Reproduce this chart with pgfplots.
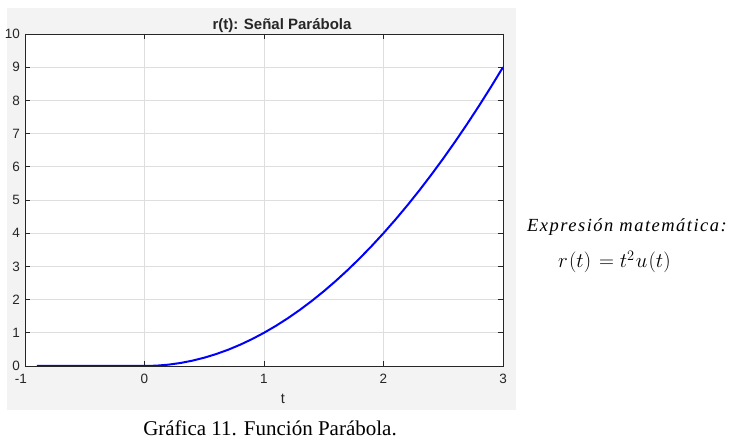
\documentclass[border=0pt]{standalone}
\usepackage{fontspec}
\setmainfont{Liberation Sans}
\newfontfamily\serif{Liberation Serif}
\newfontfamily\serifls[LetterSpace=8]{Liberation Serif}
\usepackage{pgfplots}
\pgfplotsset{compat=1.18}
\definecolor{figgray}{RGB}{243,243,243}
\definecolor{axgray}{RGB}{38,38,38}
\definecolor{gridgray}{RGB}{222,222,222}
\begin{document}
\begin{tikzpicture}[x=1pt,y=1pt]
\fill[white] (0,0) rectangle (733,441);
\fill[figgray] (7,31) rectangle (516,433);
\begin{axis}[at={(25pt,75pt)}, anchor=south west, scale only axis,
  width=478pt, height=332pt,
  xmin=-1, xmax=3, ymin=0, ymax=10,
  xtick={-1,0,1,2,3}, ytick={0,1,...,10},
  xticklabels={{\makebox[0pt][r]{-1\kern-2pt}},0,1,2,3},
  grid=major, major grid style={gridgray, line width=0.6pt},
  tick align=inside, major tick length=5pt,
  axis line style={axgray, line width=0.8pt},
  tick style={axgray, line width=0.8pt},
  axis background/.style={fill=white},
  ticklabel style={font=\fontsize{13.5}{14}\selectfont, text=axgray, inner sep=1pt},
  /pgf/number format/assume math mode=true,
  xticklabel style={yshift=-7pt},
  yticklabel style={xshift=-4pt},
]
\addplot[blue, line width=2pt] coordinates {
(-0.9,0) (0,0) (0.1,0.01) (0.2,0.04) (0.3,0.09) (0.4,0.16) (0.5,0.25)
(0.6,0.36) (0.7,0.49) (0.8,0.64) (0.9,0.81) (1.0,1.00) (1.1,1.21)
(1.2,1.44) (1.3,1.69) (1.4,1.96) (1.5,2.25) (1.6,2.56) (1.7,2.89)
(1.8,3.24) (1.9,3.61) (2.0,4.00) (2.1,4.41) (2.2,4.84) (2.3,5.29)
(2.4,5.76) (2.5,6.25) (2.6,6.76) (2.7,7.29) (2.8,7.84) (2.9,8.41) (3.0,9.00)
};
\end{axis}
\node[font=\bfseries\fontsize{15}{16}\selectfont, text=axgray, anchor=base, inner sep=0pt] at (282,411) {r(t): Señal Parábola};
\node[font=\fontsize{14.5}{16}\selectfont, text=axgray, anchor=base, inner sep=0pt] at (283,37) {t};
\node[font=\serif\fontsize{21}{24}\selectfont, anchor=base, inner sep=0pt] at (270,5) {Gráfica 11. Función Parábola.};
\node[font=\serifls\itshape\fontsize{18.5}{20}\selectfont, anchor=base west, inner sep=0pt] at (527,209) {Expresión matemática:};
\node[font=\fontsize{20}{22}\selectfont, anchor=base west, inner sep=0pt] at (558,173) {$r\mkern1mu(t)\mkern2mu = t^2\mkern1mu u\mkern1mu(t)$};
\end{tikzpicture}
\end{document}
